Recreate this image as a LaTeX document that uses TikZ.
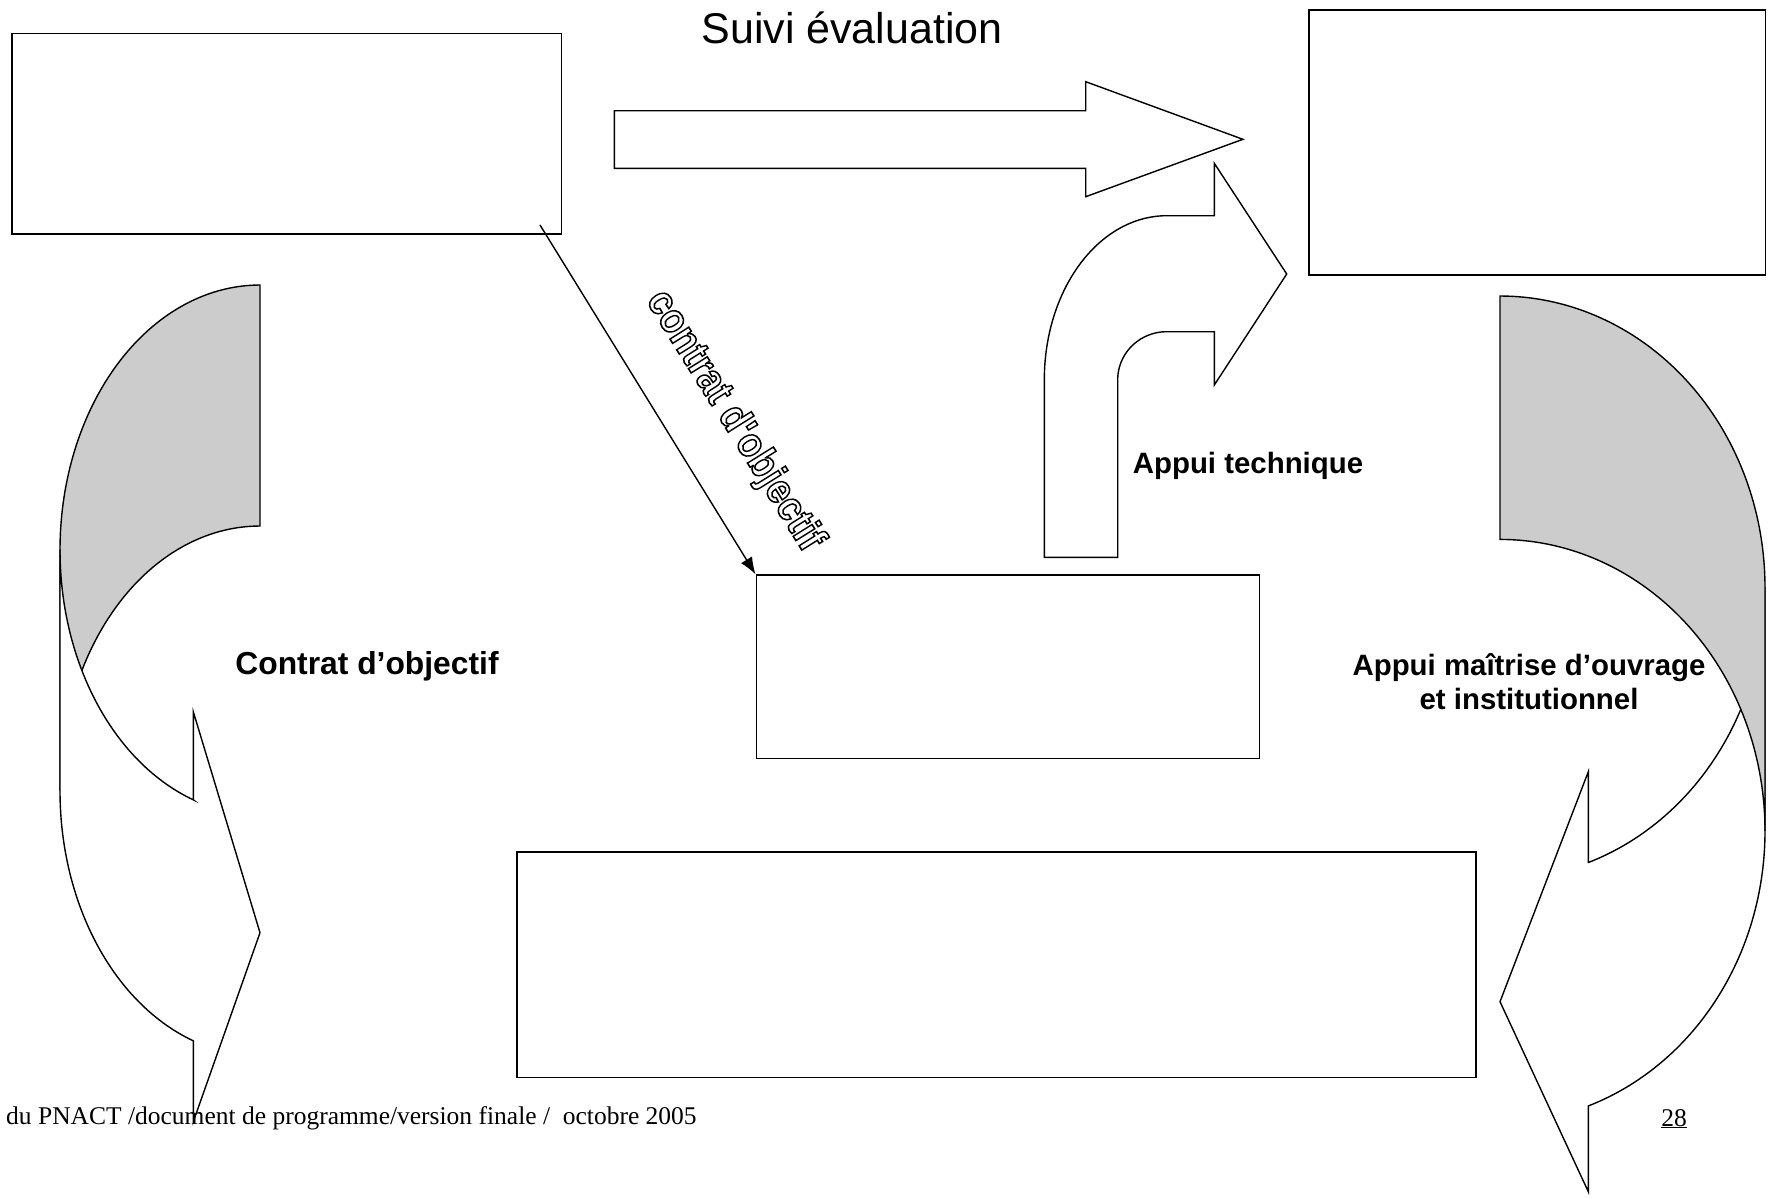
\documentclass[tikz,border=0pt]{standalone}
\usepackage{fontspec}
\setmainfont{Liberation Serif}
\newfontfamily\arialfont{Liberation Sans}
\usetikzlibrary{arrows.meta}
\definecolor{backgrey}{RGB}{204,204,204}
\newcommand{\strokedtext}[1]{\special{pdf:literal direct 1 Tr 1.6 w 0 G}#1\special{pdf:literal direct 0 Tr}}
\tikzset{
  box/.style={draw, line width=1.6pt, inner sep=0pt, anchor=north west},
  shapeline/.style={draw, line width=1.4pt, line join=miter},
  boldlabel/.style={font=\arialfont\bfseries\fontsize{29.4}{34}\selectfont, inner sep=0pt, anchor=base},
  footfont/.style={font=\fontsize{25.5}{30}\selectfont, inner sep=0pt},
}
\begin{document}
\begin{tikzpicture}[x=1pt,y=-1pt]
\useasboundingbox (0,0) rectangle (1776,1197);

% boxes
\node[box, minimum width=549.5pt, minimum height=200.5pt] (objbox) at (11.3,32.8) {};
\node[box, minimum width=456.5pt, minimum height=265pt] (topbox) at (1308.3,9.1) {};
\node[box, minimum width=503pt, minimum height=183.5pt] (midbox) at (755.5,574.3) {};
\node[box, minimum width=959pt, minimum height=225.5pt] (lowbox) at (516,851) {};

% title
\node[font=\arialfont\fontsize{43}{50}\selectfont, inner sep=0pt, anchor=base] (title) at (852,43) {Suivi évaluation};

% horizontal block arrow
\filldraw[fill=white, shapeline] (614.3,110.7) -- (1085.7,110.7) -- (1085.7,81.7) -- (1242.9,139.3)
  -- (1085.7,196.7) -- (1085.7,168.3) -- (614.3,168.3) -- cycle;

% bent arrow (Appui technique)
\filldraw[fill=white, shapeline] (1044.3,557.3) -- (1044.3,379.7)
  -- plot[domain=180:270, samples=50] ({1166.7+122.4*cos(\x)},{379.7+164*sin(\x)})
  -- (1214.3,215.7) -- (1214.3,163.3) -- (1286.7,274) -- (1214.3,385) -- (1214.3,331.7)
  -- plot[domain=270:180, samples=40] ({1166.7+49*cos(\x)},{379.7+48*sin(\x)})
  -- (1117.7,557.3) -- cycle;

% left curved arrow: back (grey) then front
\filldraw[fill=backgrey, shapeline] (260,285)
  -- plot[domain=270:180, samples=70] ({260+200*cos(\x)},{550+265*sin(\x)})
  -- (60,791)
  -- plot[domain=180:270, samples=70] ({260+200*cos(\x)},{791+265*sin(\x)})
  -- cycle;
\filldraw[fill=white, shapeline] (60,550) -- (60,791)
  -- plot[domain=180:109.47, samples=60] ({260+200*cos(\x)},{791+265*sin(\x)})
  -- (193.3,1121.7) -- (260,932.7) -- (193.3,711.7) -- (193.3,799.8)
  -- plot[domain=109.47:180, samples=60] ({260+200*cos(\x)},{550+265*sin(\x)})
  -- cycle;

% right curved arrow: front then back (grey)
\filldraw[fill=white, shapeline] (1765,587.6) -- (1765,831)
  -- plot[domain=0:70.53, samples=60] ({1500+265*cos(\x)},{831+291.6*sin(\x)})
  -- (1588.3,1191.7) -- (1500,1001.7) -- (1588.3,771.7) -- (1588.3,862.5)
  -- plot[domain=70.53:0, samples=60] ({1500+265*cos(\x)},{587.6+291.6*sin(\x)})
  -- cycle;
\filldraw[fill=backgrey, shapeline] (1500,296)
  -- plot[domain=-90:0, samples=70] ({1500+265*cos(\x)},{587.6+291.6*sin(\x)})
  -- (1765,831)
  -- plot[domain=0:-90, samples=70] ({1500+265*cos(\x)},{831+291.6*sin(\x)})
  -- cycle;

% connector
\coordinate (cstart) at (540,225);
\draw[line width=1.4pt, -{Latex[length=17pt,width=13pt]}] (cstart) -- (midbox.north west);

% rotated outlined label
\node[rotate=-58, font=\arialfont\bfseries\fontsize{42}{46}\selectfont, inner sep=0pt] (rotlabel) at (734,421) {\scalebox{0.88}[1]{\strokedtext{contrat d'objectif}}};

% labels
\node[boldlabel, font=\arialfont\bfseries\fontsize{31.8}{36}\selectfont] (lblcontrat) at (367,674) {Contrat d’objectif};
\node[boldlabel] (lbltech) at (1248,473) {Appui technique};
\node[boldlabel] (lblmoaA) at (1529,675.5) {Appui maîtrise d’ouvrage};
\node[boldlabel] (lblmoaB) at (1529,709.5) {et institutionnel};

% footer
\node[footfont, anchor=base west] (footer) at (6,1124) {du PNACT /document de programme/version finale /\ \ octobre 2005};
\node[footfont, anchor=base] (pagenum) at (1674,1126) {\underline{28}};
\end{tikzpicture}
\end{document}
